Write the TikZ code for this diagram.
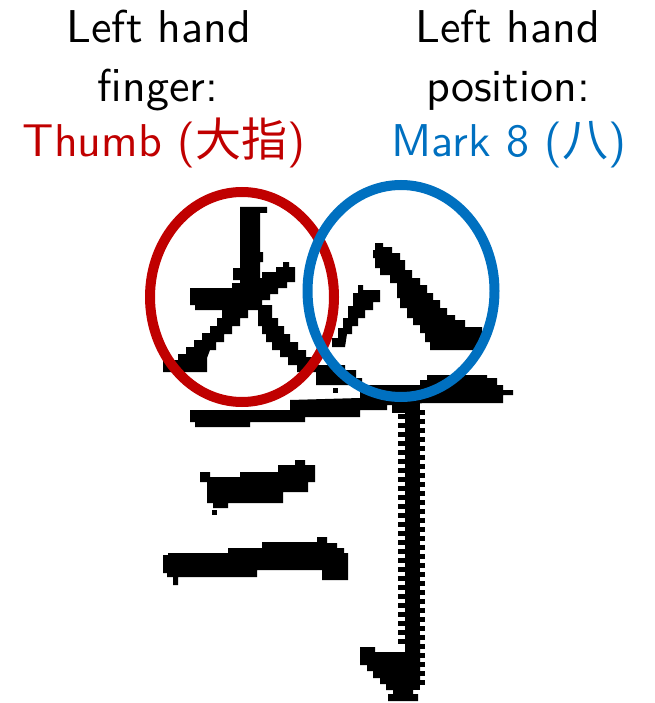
\documentclass[tikz,border=0pt]{standalone}
\usepackage{fontspec}
\newfontfamily\cjk{Noto Sans CJK SC}
\newfontfamily\lmsten{lmsans10-regular.otf}
\definecolor{ringred}{HTML}{C00000}
\definecolor{ringblue}{HTML}{0070C0}
\begin{document}
\begin{tikzpicture}[x=1pt,y=-1pt,
  lbl/.style={anchor=base,inner sep=0pt,font=\fontsize{46}{57}\selectfont\lmsten},
  ink/.style={fill=black},
  ring/.style={line width=10pt}]
\useasboundingbox (0,0) rectangle (654,703);
% ---- labels
\node[lbl] (l1) at (159,43) {Left hand};
\node[lbl] (l2) at (158,102) {finger:};
\node[lbl,text=ringred] (l3) at (164,157) {Thumb ({\cjk 大指})};
\node[lbl] (r1) at (508,43) {Left hand};
\node[lbl] (r2) at (508,102) {position:};
\node[lbl,text=ringblue] (r3) at (509,157) {Mark 8 ({\cjk 八})};
% ---- glyph: 大
\fill[ink] (240,207)--(267,207)--(267,213)--(260,213)--(260,252)--(263,252)--(263,262)--(260,262)--(260,285)--(240,285)--(240,280)--(233,280)--(233,268)--(240,268)--cycle;
\fill[ink] (190,288)--(232,288)--(232,283)--(240,283)--(240,278)--(262,278)--(262,272)--(276,272)--(276,267)--(283,267)--(283,262)--(289,262)--(289,267)--(295,267)--(295,282)--(287,282)--(287,288)--(278,288)--(278,294)--(270,294)--(270,300)--(262,300)--(262,310)--(195,310)--(195,305)--(190,305)--cycle;
\fill[ink] (222,308)--(248,308)--(248,318)--(240,318)--(240,326)--(232,326)--(232,334)--(224,334)--(224,342)--(216,342)--(216,350)--(210,350)--(207,358)--(207,372)--(163,372)--(163,360)--(178,360)--(178,354)--(186,354)--(186,347)--(194,347)--(194,340)--(202,340)--(202,333)--(210,333)--(210,326)--(217,326)--(217,318)--(222,318)--cycle;
\fill[ink] (258,305)--(272,305)--(272,318)--(278,318)--(278,326)--(284,326)--(284,334)--(290,334)--(290,342)--(298,342)--(298,350)--(306,350)--(306,357)--(313,357)--(313,372)--(297,372)--(297,365)--(288,365)--(288,357)--(280,357)--(280,350)--(272,350)--(272,342)--(266,342)--(266,334)--(262,334)--(262,326)--(258,326)--cycle;
% ---- glyph: 八
\fill[ink] (358,285)--(363,285)--(363,290)--(380,290)--(380,302)--(373,302)--(373,310)--(365,310)--(365,318)--(358,318)--(358,326)--(352,326)--(352,334)--(347,334)--(345,347)--(332,347)--(332,338)--(338,338)--(338,328)--(343,328)--(343,318)--(348,318)--(348,306)--(353,306)--(353,293)--(358,293)--cycle;
\fill[ink] (375,243)--(383,243)--(383,247)--(392,247)--(392,253)--(400,253)--(400,260)--(405,260)--(405,270)--(412,270)--(412,278)--(420,278)--(420,285)--(427,285)--(427,293)--(433,293)--(433,300)--(440,300)--(440,308)--(447,308)--(447,315)--(455,315)--(455,320)--(465,320)--(465,327)--(482,327)--(482,343)--(477,343)--(477,350)--(430,350)--(430,342)--(425,342)--(425,333)--(420,333)--(420,325)--(413,325)--(413,318)--(407,318)--(407,308)--(400,308)--(400,298)--(397,298)--(397,283)--(390,283)--(390,275)--(380,275)--(380,268)--(375,268)--(375,258)--(373,258)--(373,250)--(375,250)--cycle;
% ---- long bar
\fill[ink] (190,410)--(290,410)--(290,400)--(360,398)--(360,385)--(420,385)--(420,380)--(427,380)--(427,375)--(487,375)--(487,378)--(497,378)--(497,385)--(503,385)--(503,390)--(513,390)--(513,395)--(503,395)--(503,403)--(425,403)--(398,405)--(387,405)--(387,410)--(360,410)--(360,417)--(305,417)--(305,422)--(250,422)--(250,427)--(195,427)--(195,422)--(190,422)--cycle;
\fill[ink] (313,365)--(345,365)--(345,370)--(356,370)--(356,378)--(362,378)--(362,385)--(316,385)--(316,372)--(313,372)--cycle;
\fill[ink] (333,388) rectangle (338,393);
% ---- vertical hook
\fill[ink] (392,403) rectangle (420,413);
\fill[ink] (405,403) rectangle (420,690);
\foreach \yy in {414,423,...,644} {\fill[ink] (398,\yy) rectangle (405,\yy+5);}
\foreach \yy in {410,419,...,680} {\fill[ink] (420,\yy) rectangle (425,\yy+5);}
\fill[ink] (360,647)--(375,647)--(375,652)--(405,652)--(405,640)--(420,640)--(420,682)--(418,682)--(418,688)--(413,688)--(413,694)--(418,694)--(418,701)--(388,701)--(388,694)--(393,694)--(393,690)--(386,690)--(386,684)--(380,684)--(380,678)--(373,678)--(373,671)--(367,671)--(367,665)--(360,665)--cycle;
% ---- 二
\fill[ink] (200,472)--(210,472)--(210,477)--(240,477)--(240,472)--(278,472)--(278,465)--(295,465)--(295,460)--(305,460)--(305,465)--(315,465)--(315,482)--(308,482)--(308,492)--(283,492)--(283,503)--(228,503)--(228,508)--(213,508)--(213,503)--(207,503)--(207,482)--(200,482)--cycle;
\fill[ink] (212,510) rectangle (217,515);
\fill[ink] (163,555)--(168,555)--(168,553)--(228,553)--(228,548)--(262,548)--(262,542)--(317,542)--(317,537)--(327,537)--(327,543)--(337,543)--(337,548)--(344,548)--(344,553)--(348,553)--(348,580)--(322,580)--(322,570)--(257,570)--(257,577)--(178,577)--(178,585)--(173,585)--(173,577)--(167,577)--(167,573)--(163,573)--cycle;
% ---- rings
\draw[ring,ringred] (242,297) ellipse [x radius=92, y radius=105];
\draw[ring,ringblue] (401,291) ellipse [x radius=93.5, y radius=106];
\end{tikzpicture}
\end{document}
